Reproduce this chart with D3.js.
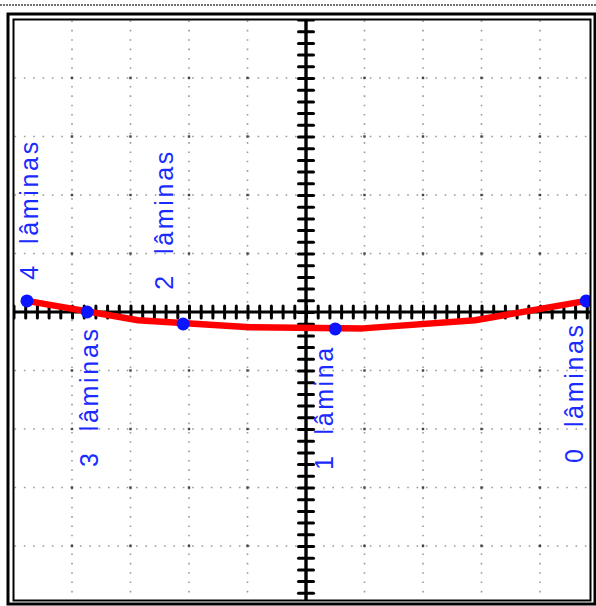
<!DOCTYPE html>
<html>
<head>
<meta charset="utf-8">
<script src="https://cdn.jsdelivr.net/npm/d3@7"></script>
<style>
  body { margin: 0; background: #fff; }
</style>
</head>
<body>
<div id="chart"></div>
<script>
// puntos medidos (unidades de cuadrícula)
const labels = ["4  lâminas", "3  lâminas", "2  lâminas", "1  lâmina", "0  lâminas"];
const pointX = [-4.77, -3.74, -2.10, 0.50, 4.79];
const pointY = [0.19, 0.00, -0.205, -0.29, 0.19];
// anclas de las etiquetas (inicio del texto girado)
const labelX = [-4.58, -3.56, -2.27, 0.46, 4.74];
const labelY = [0.55, -2.65, 0.38, -2.70, -2.58];
// línea de tendencia roja
const trendX = [-4.77, -2.87, -0.96, 0.97, 2.89, 4.79];
const trendY = [0.19, -0.14, -0.26, -0.28, -0.14, 0.19];

const width = 596;
const height = 606;

const svg = d3.select("#chart")
  .append("svg")
  .attr("width", width)
  .attr("height", height)
  .style("background", "#fff");

const x = d3.scaleLinear().domain([-5, 5]).range([13.5, 598.5]);
const y = d3.scaleLinear().domain([-5, 5]).range([604.5, 19.5]);

// línea punteada superior
svg.append("line")
  .attr("x1", 0).attr("x2", width)
  .attr("y1", 5).attr("y2", 5)
  .attr("stroke", "#444")
  .attr("stroke-width", 1.5)
  .attr("stroke-dasharray", "2,1");

svg.append("clipPath").attr("id", "clip")
  .append("rect")
  .attr("x", 13.5).attr("y", 19.5)
  .attr("width", 577).attr("height", 581);

const plot = svg.append("g").attr("clip-path", "url(#clip)");

// cuadrícula punteada
const gridVals = d3.range(-4, 5).filter((d) => d !== 0);
plot.selectAll(".vgrid")
  .data(gridVals)
  .enter()
  .append("line")
  .attr("x1", (d) => x(d)).attr("x2", (d) => x(d))
  .attr("y1", 19.5).attr("y2", 604.5)
  .attr("stroke", "#9a9a9a")
  .attr("stroke-width", 1.6)
  .attr("stroke-dasharray", "1.6,7.75")
  .attr("stroke-dashoffset", -1);

plot.selectAll(".hgrid")
  .data(gridVals)
  .enter()
  .append("line")
  .attr("y1", (d) => y(d)).attr("y2", (d) => y(d))
  .attr("x1", 13.5).attr("x2", 598.5)
  .attr("stroke", "#9a9a9a")
  .attr("stroke-width", 1.6)
  .attr("stroke-dasharray", "1.6,7.75")
  .attr("stroke-dashoffset", -1);

// puntos oscuros en las intersecciones
const cross = [];
gridVals.forEach((a) => gridVals.forEach((b) => cross.push([a, b])));
plot.selectAll(".cross")
  .data(cross)
  .enter()
  .append("rect")
  .attr("x", (d) => x(d[0]) - 1.2)
  .attr("y", (d) => y(d[1]) - 1.2)
  .attr("width", 2.4).attr("height", 2.4)
  .attr("fill", "#444");

// ejes con marcas
const tickVals = d3.range(-25, 26).map((i) => i / 5);

const xAxis = plot.append("g")
  .attr("transform", `translate(0,${y(0) - 6})`)
  .call(d3.axisBottom(x).tickValues(tickVals).tickSize(12).tickSizeOuter(0).tickFormat(""));
xAxis.select(".domain").remove();

const yAxis = plot.append("g")
  .attr("transform", `translate(${x(0) + 7.5},0)`)
  .call(d3.axisLeft(y).tickValues(tickVals).tickSize(15).tickSizeOuter(0).tickFormat(""));
yAxis.select(".domain").remove();

plot.selectAll(".tick line")
  .attr("stroke", "#000")
  .attr("stroke-width", 3)
  .attr("stroke-linecap", "round");

plot.append("line")
  .attr("x1", 13.5).attr("x2", 598.5)
  .attr("y1", y(0)).attr("y2", y(0))
  .attr("stroke", "#000").attr("stroke-width", 3);

plot.append("line")
  .attr("x1", x(0)).attr("x2", x(0))
  .attr("y1", 19.5).attr("y2", 604.5)
  .attr("stroke", "#000").attr("stroke-width", 3.4);

// línea roja
const line = d3.line()
  .x((d, i) => x(trendX[i]))
  .y((d, i) => y(trendY[i]));

plot.append("path")
  .datum(trendX)
  .attr("d", line)
  .attr("fill", "none")
  .attr("stroke", "#ff0000")
  .attr("stroke-width", 6.5)
  .attr("stroke-linejoin", "round");

// puntos azules
plot.selectAll(".pt")
  .data(pointX)
  .enter()
  .append("circle")
  .attr("cx", (d, i) => x(d))
  .attr("cy", (d, i) => y(pointY[i]))
  .attr("r", 6.5)
  .attr("fill", "#0a14ff");

// etiquetas giradas
plot.selectAll(".lbl")
  .data(labels)
  .enter()
  .append("text")
  .attr("transform", (d, i) => `translate(${x(labelX[i])},${y(labelY[i])}) rotate(-90)`)
  .attr("fill", "#1a2bff")
  .attr("textLength", (d, i) => (i === 3 ? 122 : 138))
  .attr("lengthAdjust", "spacing")
  .style("font-family", "'Liberation Sans', Arial, sans-serif")
  .style("font-size", "25px")
  .style("white-space", "pre")
  .text((d) => d);

// marco doble
svg.append("rect")
  .attr("x", 8).attr("y", 14)
  .attr("width", 587).attr("height", 590)
  .attr("fill", "none")
  .attr("stroke", "#000")
  .attr("stroke-width", 3);

svg.append("rect")
  .attr("x", 13.5).attr("y", 19.5)
  .attr("width", 577).attr("height", 581)
  .attr("fill", "none")
  .attr("stroke", "#000")
  .attr("stroke-width", 2);
</script>
</body>
</html>
